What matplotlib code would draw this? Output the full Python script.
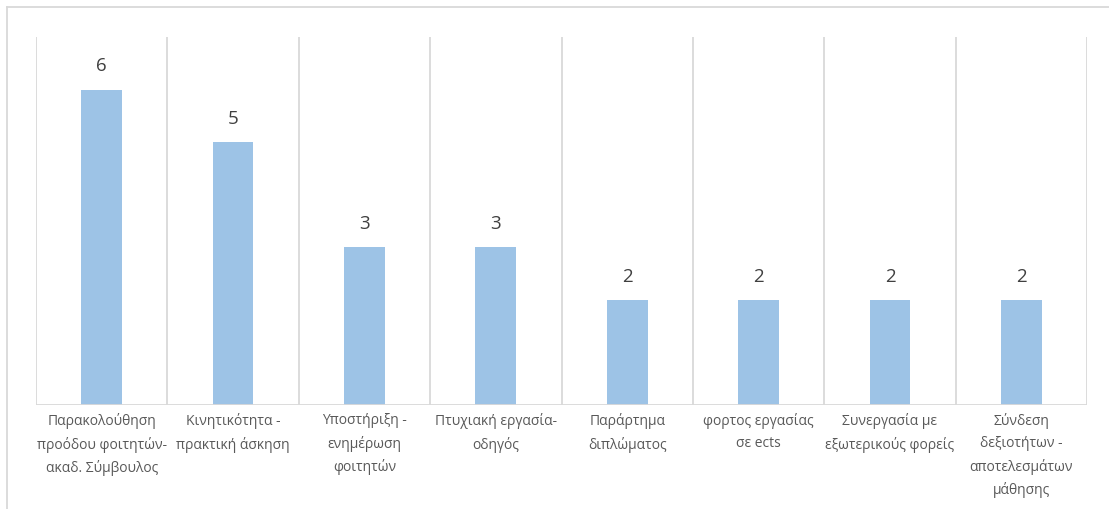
import matplotlib
matplotlib.use("Agg")
import matplotlib.pyplot as plt
from matplotlib.lines import Line2D

categories = [
    "Παρακολούθηση\nπροόδου φοιτητών-\nακαδ. Σύμβουλος",
    "Κινητικότητα -\nπρακτική άσκηση",
    "Υποστήριξη -\nενημέρωση\nφοιτητών",
    "Πτυχιακή εργασία-\nοδηγός",
    "Παράρτημα\nδιπλώματος",
    "φορτος εργασίας\nσε ects",
    "Συνεργασία με\nεξωτερικούς φορείς",
    "Σύνδεση\nδεξιοτήτων -\nαποτελεσμάτων\nμάθησης",
]
values = [6, 5, 3, 3, 2, 2, 2, 2]

plt.rcParams['font.family'] = ['Open Sans', 'DejaVu Sans']

W, H = 1109, 509
fig = plt.figure(figsize=(W / 100, H / 100), dpi=100)
ax = fig.add_axes([36 / W, 1 - 405 / H, (1087 - 36) / W, (405 - 37) / H])

x = list(range(len(values)))
bars = ax.bar(x, values, width=0.31, color="#9DC3E6", zorder=2)
for xi, v in zip(x, values):
    ax.text(xi, v + 0.27, str(v), ha="center", va="bottom", fontsize=13.5, color="#404040")

ax.set_xlim(-0.5, len(values) - 0.5)
ax.set_ylim(0, 7)
for b in [i - 0.5 for i in range(len(values) + 1)]:
    ax.axvline(b, color="#d9d9d9", lw=1.3, zorder=1)
ax.axhline(0, color="#d9d9d9", lw=1.3, zorder=3)

ax.set_xticks(x)
ax.set_xticklabels(categories, fontsize=10, color="#595959", linespacing=1.62)
ax.tick_params(axis="x", length=0, pad=6)
ax.set_yticks([])
for s in ax.spines.values():
    s.set_visible(False)

fig.add_artist(Line2D([7 / W, 7 / W], [0, 1 - 7 / H], color="#d9d9d9", lw=1.3, transform=fig.transFigure))
fig.add_artist(Line2D([7 / W, 1], [1 - 7 / H, 1 - 7 / H], color="#d9d9d9", lw=1.3, transform=fig.transFigure))

fig.savefig("out.png", dpi=100)
